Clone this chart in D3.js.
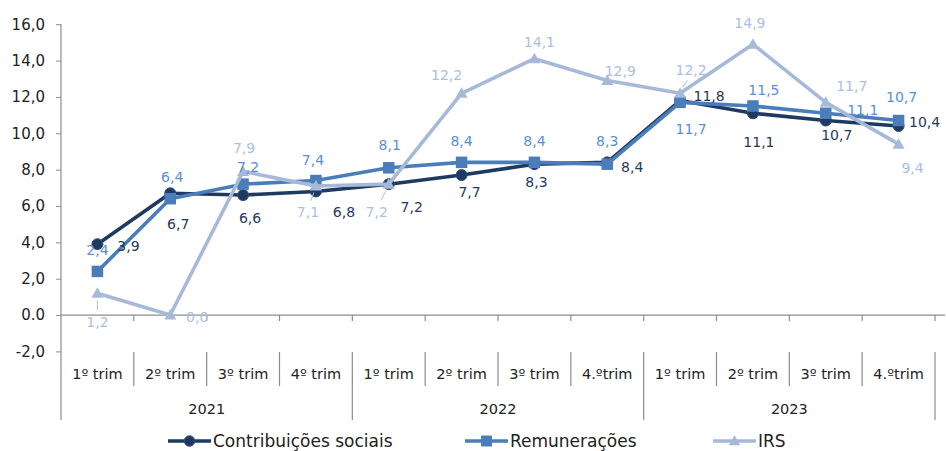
<!DOCTYPE html>
<html lang="pt">
<head>
<meta charset="utf-8">
<script src="https://cdn.jsdelivr.net/npm/d3@7"></script>
<style>
  html, body { margin: 0; padding: 0; background: #fff; }
  svg { display: block; font-family: "DejaVu Sans", Verdana, sans-serif; }
</style>
</head>
<body>
<svg id="chart" width="946" height="451"></svg>
<script>
// Quarterly variation (%) by revenue type
const quarters = ["1º trim", "2º trim", "3º trim", "4º trim",
                  "1º trim", "2º trim", "3º trim", "4.ºtrim",
                  "1º trim", "2º trim", "3º trim", "4.ºtrim"];
const years = ["2021", "2022", "2023"];
const contribuicoes = [3.9, 6.7, 6.6, 6.8, 7.2, 7.7, 8.3, 8.4, 11.8, 11.1, 10.7, 10.4];
const remuneracoes  = [2.4, 6.4, 7.2, 7.4, 8.1, 8.4, 8.4, 8.3, 11.7, 11.5, 11.1, 10.7];
const irs           = [1.2, 0.0, 7.9, 7.1, 7.2, 12.2, 14.1, 12.9, 12.2, 14.9, 11.7, 9.4];
const yTicks = [-2, 0, 2, 4, 6, 8, 10, 12, 14, 16];
const yTickLabels = ["-2,0", "0.0", "2,0", "4,0", "6,0", "8,0", "10,0", "12,0", "14,0", "16,0"];

// Label offsets (dx, dy) from each marker, per series
const offContrib = [[31,2],[8,31],[7,23],[28,21],[23,23],[8,17],[2,18],[25,5],[29,-5],[6,29],[11,14],[26,-4]];
const offRemun   = [[0,-21],[2,-22],[5,-17],[-3,-21],[1,-23],[0,-21],[0,-21],[0,-23],[11,27],[11,-16],[37,-3],[3,-24]];
const offIrs     = [[0,29],[27,2],[1,-23],[-8,26],[-12,28],[-15,-18],[5,-17],[13,-10],[11,-23],[-3,-21],[26,-16],[14,24]];
// Points whose labels carry a leader line
const leaderIrs = [0, 3, 4, 8];

const fmt = v => v.toFixed(1).replace(".", ",");

const series = [
  { name: "Contribuições sociais", values: contribuicoes, color: "#1f3a60", labelColor: "#1f3a60",
    marker: "circle", offsets: offContrib, leaders: [] },
  { name: "Remunerações", values: remuneracoes, color: "#4a7dba", labelColor: "#5a8fd8",
    marker: "square", offsets: offRemun, leaders: [] },
  { name: "IRS", values: irs, color: "#a7b9d9", labelColor: "#a9c0e4",
    marker: "triangle", offsets: offIrs, leaders: leaderIrs }
];

const svg = d3.select("#chart");
const plotLeft = 61, plotRight = 935, plotTop = 24.2, plotBottom = 351.4;
const axisColor = "#8c8c8c";

const x = d3.scaleBand().domain(d3.range(quarters.length)).range([plotLeft, plotRight]);
const y = d3.scaleLinear().domain([-2, 16]).range([plotBottom, plotTop]);
const cx = i => x(i) + x.bandwidth() / 2;

// Y axis
const yAxis = d3.axisLeft(y).tickValues(yTicks)
  .tickFormat((d, i) => yTickLabels[i]).tickSize(5).tickPadding(11);
const gy = svg.append("g").attr("transform", `translate(${plotLeft},0)`).call(yAxis);
gy.select(".domain").remove();
gy.selectAll(".tick line").attr("stroke", axisColor);
gy.selectAll(".tick text").attr("fill", "#222").style("font-size", "15px")
  .style("font-family", "DejaVu Sans, sans-serif");
// vertical axis line, continuing through the category area
svg.append("line").attr("x1", plotLeft).attr("x2", plotLeft).attr("y1", plotTop).attr("y2", 420)
  .attr("stroke", axisColor).attr("stroke-width", 1.2);

// Horizontal axis at zero with boundary ticks
svg.append("line").attr("x1", plotLeft).attr("x2", plotRight + 10).attr("y1", y(0)).attr("y2", y(0))
  .attr("stroke", axisColor).attr("stroke-width", 1.2);
svg.append("g").selectAll("line").data(d3.range(1, quarters.length + 1)).join("line")
  .attr("x1", i => x(i - 1) + x.bandwidth()).attr("x2", i => x(i - 1) + x.bandwidth())
  .attr("y1", y(0)).attr("y2", y(0) + 6).attr("stroke", axisColor).attr("stroke-width", 1.2);

// Category area: quarter separators, year separators, labels
const catTop = plotBottom + 0.5;
svg.append("g").selectAll("line").data(d3.range(1, quarters.length).filter(i => i % 4 !== 0)).join("line")
  .attr("x1", i => x(i)).attr("x2", i => x(i))
  .attr("y1", catTop).attr("y2", 386).attr("stroke", axisColor).attr("stroke-width", 1.2);
svg.append("g").selectAll("line").data([4, 8, 12]).join("line")
  .attr("x1", i => i === 12 ? plotRight : x(i)).attr("x2", i => i === 12 ? plotRight : x(i))
  .attr("y1", catTop).attr("y2", 420).attr("stroke", axisColor).attr("stroke-width", 1.2);

svg.append("g").selectAll("text").data(quarters).join("text")
  .attr("x", (d, i) => cx(i)).attr("y", 379)
  .attr("text-anchor", "middle").attr("fill", "#222").style("font-size", "14.5px")
  .text(d => d);
svg.append("g").selectAll("text").data(years).join("text")
  .attr("x", (d, i) => (x(i * 4) + (i * 4 + 4 >= quarters.length ? plotRight : x(i * 4 + 4))) / 2)
  .attr("y", 414)
  .attr("text-anchor", "middle").attr("fill", "#222").style("font-size", "14.5px")
  .text(d => d);

// Marker drawing
function drawMarker(g, type, color, px, py, scale = 1) {
  if (type === "circle") {
    g.append("circle").attr("cx", px).attr("cy", py).attr("r", 5.5 * scale)
      .attr("fill", color).attr("stroke", "#2c4d7c").attr("stroke-width", 1);
  } else if (type === "square") {
    const s = 11.5 * scale;
    g.append("rect").attr("x", px - s / 2).attr("y", py - s / 2).attr("width", s).attr("height", s)
      .attr("fill", color);
  } else {
    const s = 6 * scale;
    g.append("path").attr("d", `M${px},${py - s} L${px + s},${py + s * 0.75} L${px - s},${py + s * 0.75} Z`)
      .attr("fill", color);
  }
}

const line = d3.line().x((d, i) => cx(i)).y(d => y(d));

series.forEach(s => {
  const g = svg.append("g");
  g.append("path").datum(s.values).attr("d", line)
    .attr("fill", "none").attr("stroke", s.color).attr("stroke-width", 3.6)
    .attr("stroke-linejoin", "round");
  s.values.forEach((v, i) => drawMarker(g, s.marker, s.color, cx(i), y(v)));
});

// Value labels (drawn after all lines)
series.forEach(s => {
  const g = svg.append("g");
  s.values.forEach((v, i) => {
    const [dx, dy] = s.offsets[i];
    const px = cx(i), py = y(v);
    if (s.leaders.includes(i)) {
      const lx = px + dx, ly = py + dy;
      const ex = lx + (px - lx) * 0.35, ey = ly + (py - ly) * 0.35;
      g.append("line").attr("x1", ex).attr("y1", ey - Math.sign(dy) * 2)
        .attr("x2", px + (lx - px) * 0.25).attr("y2", py + (ly - py) * 0.25)
        .attr("stroke", s.labelColor).attr("stroke-width", 1);
    }
    g.append("text").attr("x", px + dx).attr("y", py + dy)
      .attr("text-anchor", "middle").attr("dominant-baseline", "central")
      .attr("fill", s.labelColor).style("font-size", "14px")
      .text(fmt(v));
  });
});

// Legend
const legendItems = [
  { s: series[0], x0: 168 },
  { s: series[1], x0: 465 },
  { s: series[2], x0: 713 }
];
const lg = svg.append("g");
legendItems.forEach(({ s, x0 }) => {
  const ly = 441;
  lg.append("line").attr("x1", x0).attr("x2", x0 + 43).attr("y1", ly).attr("y2", ly)
    .attr("stroke", s.color).attr("stroke-width", 3.6);
  drawMarker(lg, s.marker, s.color, x0 + 21.5, ly, 0.95);
  lg.append("text").attr("x", x0 + 45).attr("y", ly).attr("dominant-baseline", "central")
    .attr("fill", "#222").style("font-size", "17px").text(s.name);
});
</script>
</body>
</html>
